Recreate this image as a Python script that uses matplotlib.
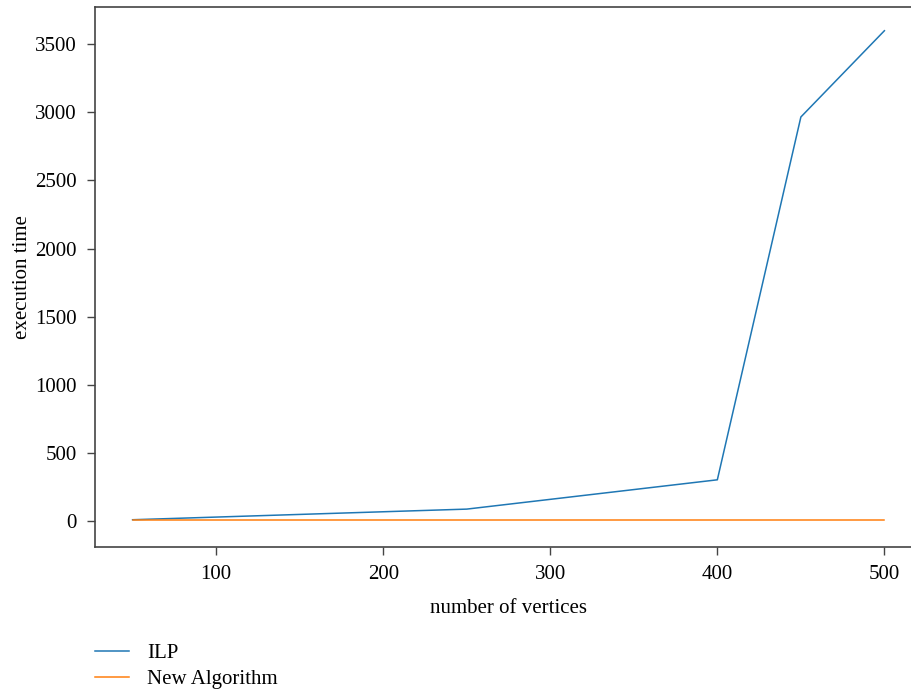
import matplotlib
matplotlib.use("Agg")
import matplotlib.pyplot as plt

vertices = [50, 250, 400, 450, 500]
ilp_time = [10, 88, 303, 2965, 3598]
new_vertices = [50, 500]
new_time = [10, 10]
x_ticks = [100, 200, 300, 400, 500]
y_ticks = [0, 500, 1000, 1500, 2000, 2500, 3000, 3500]

plt.rcParams['font.family'] = ['Liberation Serif', 'DejaVu Serif']

fig = plt.figure(figsize=(9.11, 6.92), dpi=100)
ax = fig.add_axes([95/911, 1 - 547/692, (922 - 95)/911, (547 - 7)/692])

ax.plot(vertices, ilp_time, color='#1f77b4', lw=1.1, label='ILP')
ax.plot(new_vertices, new_time, color='#ff7f0e', lw=1.1, label='New Algorithm')

ax.set_xlim(27.5, 522.5)
ax.set_ylim(-190, 3772)
ax.set_xticks(x_ticks)
ax.set_yticks(y_ticks)
ax.tick_params(direction='out', length=6, width=1, color='#444444', labelsize=15, pad=7)
for s in ax.spines.values():
    s.set_color('#444444')
    s.set_linewidth(1.2)

ax.set_xlabel('number of vertices', fontsize=15, labelpad=11)
ax.set_ylabel('execution time', fontsize=15, labelpad=2)

leg = fig.legend(loc='upper left', bbox_to_anchor=(76/911, 1 - 625/692), frameon=False,
                 fontsize=15, handlelength=1.65, handletextpad=0.85, labelspacing=0.3)

fig.savefig('out.png', dpi=100)
